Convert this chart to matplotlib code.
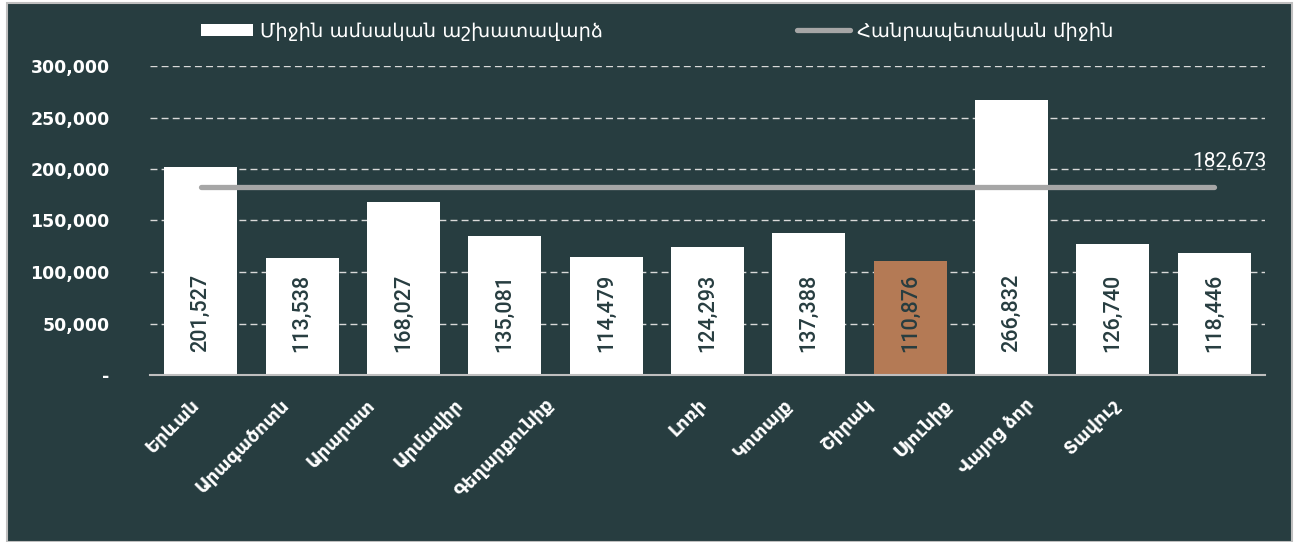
import numpy as np
import matplotlib
matplotlib.use("Agg")
import matplotlib.pyplot as plt
from matplotlib.patches import Rectangle
from matplotlib.ticker import FuncFormatter

# Տվյալներ
marzer = ["Երևան", "Արագածոտն", "Արարատ", "Արմավիր", "Գեղարքունիք", "Լոռի",
          "Կոտայք", "Շիրակ", "Սյունիք", "Վայոց ձոր", "Տավուշ"]
ashkhatavardz = [201527, 113538, 168027, 135081, 114479, 124293,
                 137388, 110876, 266832, 126740, 118446]
hanrapetakan_mijin = 182673
yticks = [0, 50000, 100000, 150000, 200000, 250000, 300000]

bg = "#273d40"
plt.rcParams['font.family'] = ['DejaVu Sans']

fig = plt.figure(figsize=(12.98, 5.42), dpi=100, facecolor="white")
fig.patches.append(Rectangle((7/1298, 0), 1285/1298, 539/542, transform=fig.transFigure,
                             facecolor=bg, edgecolor="#bfbfbf", lw=1.5, zorder=-10))
ax = fig.add_axes([150/1298, 167/542, 1115/1298, 309/542])
ax.set_facecolor(bg)

x = np.arange(len(marzer))
colors = ["white"] * len(marzer)
colors[marzer.index("Շիրակ")] = "#b47a55"
bars = ax.bar(x, ashkhatavardz, width=0.72, color=colors, zorder=3)
line, = ax.plot([x[0], x[-1]], [hanrapetakan_mijin] * 2, color="#a6a6a6", lw=3.8,
                solid_capstyle="round", zorder=4)

# արժեքները սյուների ներսում
for xi, v in zip(x, ashkhatavardz):
    ax.text(xi, 22000, f"{v:,}", rotation=90, ha="center", va="bottom",
            color=bg, fontsize=15.5, fontweight="medium",
            family=["Roboto", "DejaVu Sans"], zorder=5)

ax.annotate(f"{hanrapetakan_mijin:,}", (x[-1], hanrapetakan_mijin),
            xytext=(15, 25), textcoords="offset pixels", ha="center", va="center",
            color="white", fontsize=15, family=["Roboto", "DejaVu Sans"])

ax.set_xlim(-0.5, 10.5)
ax.set_ylim(0, 300000)
ax.set_yticks(yticks)
ax.yaxis.set_major_formatter(FuncFormatter(lambda v, p: "-" if v == 0 else f"{int(v):,}"))
ax.grid(axis="y", color="#d9d9d9", ls=(0, (5, 3)), lw=1, zorder=1)
for s in ["top", "right", "left"]:
    ax.spines[s].set_visible(False)
ax.spines["bottom"].set_color("#bfbfbf")
ax.spines["bottom"].set_linewidth(1.5)
ax.spines["bottom"].set_zorder(6)
ax.tick_params(axis="y", length=0, pad=29, labelcolor="white", labelsize=12.5)
for t in ax.get_yticklabels():
    t.set_fontweight("bold")

# x առանցքի անվանումները
ax.set_xticks(x)
ax.set_xticklabels([])
ax.tick_params(axis="x", length=0)
label_dx = [-4, -16, -31, -44, -55, -3, -19, -40, -62, -81, -97]
for xi, name, dx in zip(x, marzer, label_dx):
    ax.annotate(name, (xi, 0), xycoords=("data", "axes fraction"),
                xytext=(dx, -27), textcoords="offset pixels",
                rotation=45, ha="right", va="center", rotation_mode="anchor",
                color="white", fontsize=13, fontweight="bold")

leg = ax.legend([bars, line], ["Միջին ամսական աշխատավարձ", "Հանրապետական միջին"],
                loc="center", bbox_to_anchor=(657/1298, 1 - 31/542), bbox_transform=fig.transFigure,
                ncol=2, frameon=False, fontsize=14, handlelength=2.7, handleheight=0.57,
                columnspacing=10, handletextpad=0.35)
for t in leg.get_texts():
    t.set_color("white")

fig.savefig("out.png", dpi=100, facecolor=fig.get_facecolor())
